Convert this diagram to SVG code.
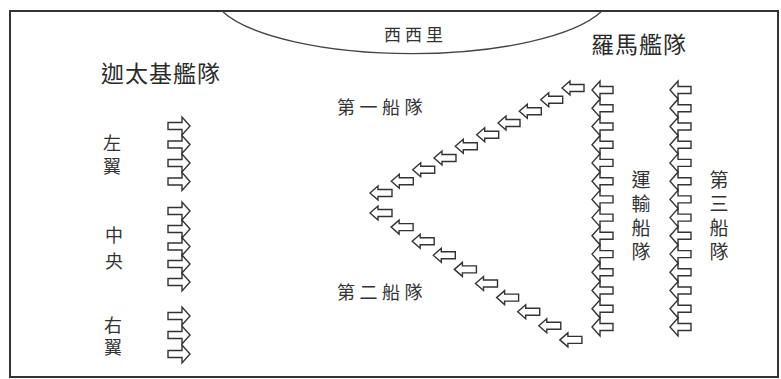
<svg xmlns="http://www.w3.org/2000/svg" xmlns:xlink="http://www.w3.org/1999/xlink" width="781" height="379" viewBox="0 0 781 379">
<style>
.lbl{font-family:"Noto Sans CJK TC","Noto Sans CJK SC",sans-serif;fill:#333;dominant-baseline:central}
.big{font-size:23px;letter-spacing:1px;fill:#2a2a2a}
.v{font-family:"Noto Sans CJK TC","Noto Sans CJK SC",sans-serif;fill:#333;writing-mode:vertical-rl;text-orientation:upright}
.row{font-size:18px;letter-spacing:4.5px}
.arr{fill:#fff;stroke:#333;stroke-width:1.4;stroke-linejoin:miter}
</style>
<defs>
<path id="la" class="arr" d="M0,0 L8,-7 L8,-3.5 L22,-3.5 L22,3.5 L8,3.5 L8,7 Z"/>
<path id="lc" class="arr" d="M0,0 L8,-9 L8,-3.5 L21,-3.5 L21,3.5 L8,3.5 L8,9 Z"/>
<path id="ra" class="arr" d="M0,0 L-8,-9 L-8,-3.5 L-22,-3.5 L-22,3.5 L-8,3.5 L-8,9 Z"/>
</defs>
<rect width="781" height="379" fill="#fff"/>
<rect x="10" y="11" width="768" height="366" fill="none" stroke="#333" stroke-width="2"/>
<g id="sicily">
<path d="M222,11 A200,62 0 0 0 602,11" fill="none" stroke="#444" stroke-width="1.3"/>
<text class="lbl" x="384" y="33" style="font-size:17px;letter-spacing:4px">西西里</text>
</g>
<g id="carthage">
<text class="lbl big" x="101" y="72">迦太基艦隊</text>
<g id="left-wing">
<text class="v" x="112" y="134" style="font-size:18px;letter-spacing:5px">左翼</text>
<use href="#ra" x="190" y="126"/><use href="#ra" x="190" y="144.5"/><use href="#ra" x="190" y="163"/><use href="#ra" x="190" y="181.5"/>
</g>
<g id="center">
<text class="v" x="114" y="226" style="font-size:18px;letter-spacing:8px">中央</text>
<use href="#ra" x="190" y="211"/><use href="#ra" x="190" y="229"/><use href="#ra" x="190" y="246.5"/><use href="#ra" x="190" y="264"/><use href="#ra" x="190" y="282"/>
</g>
<g id="right-wing">
<text class="v" x="113" y="316" style="font-size:18px;letter-spacing:4px">右翼</text>
<use href="#ra" x="190" y="316"/><use href="#ra" x="190" y="335"/><use href="#ra" x="190" y="354"/>
</g>
</g>
<g id="rome">
<text class="lbl big" x="591" y="43">羅馬艦隊</text>
<g id="first-squadron">
<text class="lbl row" x="337" y="106">第一船隊</text>
<use href="#la" x="370" y="193"/><use href="#la" x="391.3" y="181.3"/><use href="#la" x="412.7" y="169.7"/><use href="#la" x="434" y="158"/><use href="#la" x="455.3" y="146.3"/><use href="#la" x="476.7" y="134.7"/><use href="#la" x="498" y="123"/><use href="#la" x="519.3" y="111.3"/><use href="#la" x="540.7" y="99.7"/><use href="#la" x="562" y="88"/>
</g>
<g id="second-squadron">
<text class="lbl row" x="337" y="291">第二船隊</text>
<use href="#la" x="370" y="213"/><use href="#la" x="391.1" y="227.1"/><use href="#la" x="412.2" y="241.2"/><use href="#la" x="433.3" y="255.3"/><use href="#la" x="454.4" y="269.4"/><use href="#la" x="475.5" y="283.5"/><use href="#la" x="496.6" y="297.6"/><use href="#la" x="517.7" y="311.7"/><use href="#la" x="538.8" y="325.8"/><use href="#la" x="559.9" y="339.9"/>
</g>
<g id="transport-squadron">
<text class="v" x="641" y="170.5" style="font-size:19px;letter-spacing:5px">運輸船隊</text>
<use href="#lc" x="592" y="90"/><use href="#lc" x="592" y="108.2"/><use href="#lc" x="592" y="126.5"/><use href="#lc" x="592" y="144.7"/><use href="#lc" x="592" y="162.9"/><use href="#lc" x="592" y="181.2"/><use href="#lc" x="592" y="199.4"/><use href="#lc" x="592" y="217.6"/><use href="#lc" x="592" y="235.8"/><use href="#lc" x="592" y="254.1"/><use href="#lc" x="592" y="272.3"/><use href="#lc" x="592" y="290.5"/><use href="#lc" x="592" y="308.8"/><use href="#lc" x="592" y="327"/>
</g>
<g id="third-squadron">
<text class="v" x="719" y="170.5" style="font-size:19px;letter-spacing:5px">第三船隊</text>
<use href="#lc" x="670" y="90"/><use href="#lc" x="670" y="108.2"/><use href="#lc" x="670" y="126.5"/><use href="#lc" x="670" y="144.7"/><use href="#lc" x="670" y="162.9"/><use href="#lc" x="670" y="181.2"/><use href="#lc" x="670" y="199.4"/><use href="#lc" x="670" y="217.6"/><use href="#lc" x="670" y="235.8"/><use href="#lc" x="670" y="254.1"/><use href="#lc" x="670" y="272.3"/><use href="#lc" x="670" y="290.5"/><use href="#lc" x="670" y="308.8"/><use href="#lc" x="670" y="327"/>
</g>
</g>
<g id="connectors"/>
</svg>
